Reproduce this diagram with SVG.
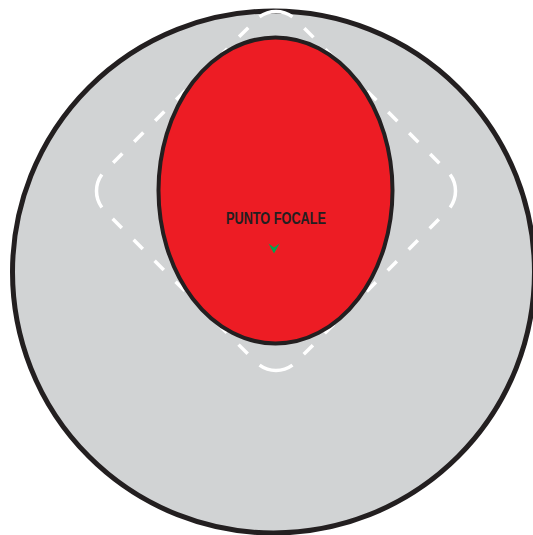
<svg xmlns="http://www.w3.org/2000/svg" width="533" height="535" viewBox="0 0 533 535">
  <style>
    .outline { stroke: #231f20; }
    .dash { fill: none; stroke: #ffffff; stroke-width: 3.5; }
    .edge { stroke-dasharray: 13 16.67; stroke-dashoffset: 17.67; }
    .label { font-family: "Liberation Sans", Arial, sans-serif; font-weight: bold; font-size: 16px; fill: #231f20; }
  </style>
  <rect width="533" height="535" fill="#ffffff"/>
  <g id="area">
    <circle class="outline" cx="273.5" cy="272" r="261" fill="#d1d3d4" stroke-width="5"/>
  </g>
  <g id="zone">
    <path class="dash" d="M259.54,16.85 A28,28 0 0 1 292.46,16.85"/>
    <path class="dash" d="M450.15,174.54 A28,28 0 0 1 450.15,207.46"/>
    <path class="dash" d="M292.46,365.15 A28,28 0 0 1 259.54,365.15"/>
    <path class="dash" d="M101.85,207.46 A28,28 0 0 1 101.85,174.54"/>
    <line class="dash edge" x1="295.8" y1="19.7" x2="447.3" y2="171.2"/>
    <line class="dash edge" x1="447.3" y1="210.8" x2="295.8" y2="362.3"/>
    <line class="dash edge" x1="256.2" y1="362.3" x2="104.7" y2="210.8"/>
    <line class="dash edge" x1="104.7" y1="171.2" x2="256.2" y2="19.7"/>
  </g>
  <g id="focal">
    <ellipse class="outline" cx="275.5" cy="190.5" rx="117" ry="153" fill="#ed1c24" stroke-width="4"/>
    <text class="label" x="276" y="224" text-anchor="middle" textLength="100" lengthAdjust="spacingAndGlyphs">PUNTO FOCALE</text>
    <polygon points="268.5,243.5 274,247.5 279.5,243.5 274,253.5" fill="#00a651"/>
  </g>
</svg>
